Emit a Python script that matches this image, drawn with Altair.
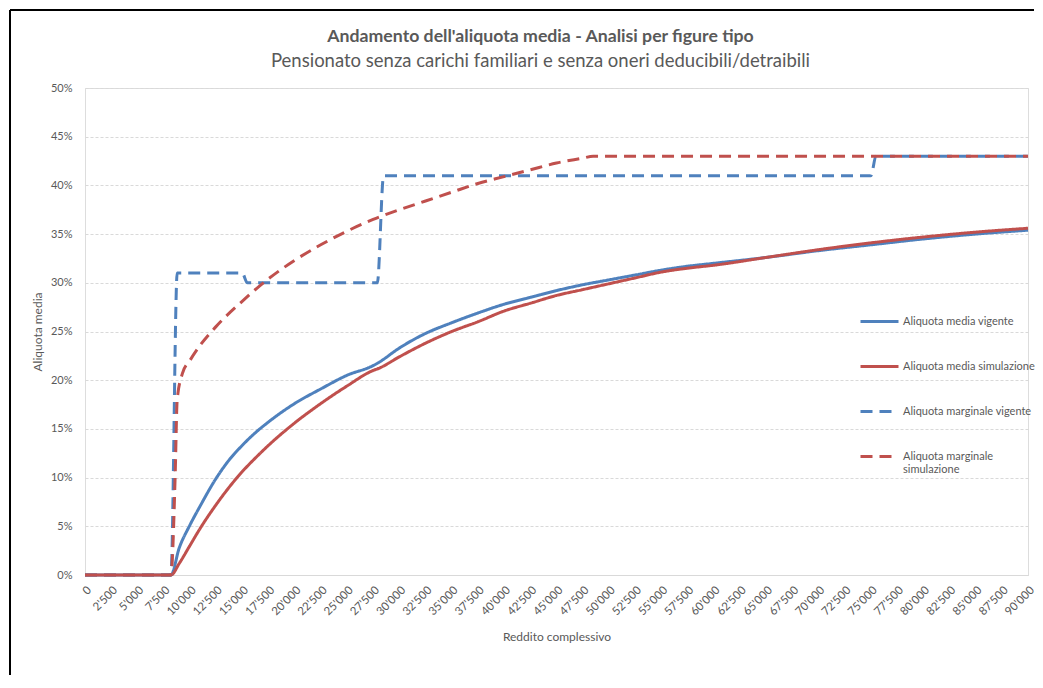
import altair as alt
import pandas as pd

titolo = "Andamento dell'aliquota media - Analisi per figure tipo"
sottotitolo = "Pensionato senza carichi familiari e senza oneri deducibili/detraibili"

serie = ["Aliquota media vigente", "Aliquota media simulazione",
         "Aliquota marginale vigente", "Aliquota marginale simulazione"]
colori = ["#4f81bd", "#c0504d", "#4f81bd", "#c0504d"]
tratti = [[1, 0], [1, 0], [12, 7], [12, 7]]

reddito_media = [0, 8200, 9000, 10000, 11000, 12500, 13750, 15000, 16250, 17500,
                 20000, 22500, 25000, 27500, 28000, 30000, 32500, 35000, 37500,
                 40000, 42500, 45000, 47500, 50000, 52500, 55000, 57500, 60000,
                 65000, 70000, 75000, 80000, 85000, 90000]
media_vigente = [0, 0, 2.8, 5.1, 7.1, 9.9, 11.8, 13.3, 14.6, 15.7,
                 17.6, 19.1, 20.5, 21.5, 21.8, 23.3, 24.8, 25.9, 26.9,
                 27.8, 28.5, 29.2, 29.8, 30.3, 30.8, 31.3, 31.7, 32.0,
                 32.6, 33.3, 33.9, 34.5, 35.0, 35.4]
media_simulazione = [0, 0, 1.2, 3.0, 4.8, 7.2, 9.0, 10.6, 12.0, 13.3,
                     15.6, 17.6, 19.4, 21.0, 21.2, 22.4, 23.8, 25.0, 26.0,
                     27.1, 27.9, 28.7, 29.3, 29.9, 30.5, 31.1, 31.5, 31.8,
                     32.6, 33.4, 34.1, 34.7, 35.2, 35.6]

reddito_marg_vig = [0, 8200, 8800, 15000, 15500, 27900, 28500, 75000, 75500, 90000]
marginale_vigente = [0, 0, 31, 31, 30, 30, 41, 41, 43, 43]

reddito_marg_sim = [0, 8200, 8300, 8600, 8800, 9300, 10000, 11000, 12500, 15000,
                    17500, 20000, 22500, 25000, 27500, 30000, 32500, 35000, 37500,
                    40000, 42500, 45000, 47500, 48500, 90000]
marginale_simulazione = [0, 0, 1, 10, 18, 20.7, 22.0, 23.6, 25.5, 28.1,
                         30.4, 32.3, 33.9, 35.3, 36.5, 37.5, 38.4, 39.3, 40.2,
                         40.9, 41.6, 42.3, 42.8, 43, 43]

righe = []
for nome, xs, ys in [
    (serie[0], reddito_media, media_vigente),
    (serie[1], reddito_media, media_simulazione),
    (serie[2], reddito_marg_vig, marginale_vigente),
    (serie[3], reddito_marg_sim, marginale_simulazione),
]:
    for i, (a, b) in enumerate(zip(xs, ys)):
        righe.append({"serie": nome, "reddito": a, "aliquota": b, "ordine": i})
df = pd.DataFrame(righe)

grigio = "#595959"
font = "Lato"

legenda = alt.Legend(
    orient="none", legendX=774, legendY=213, title=None,
    symbolType="stroke", symbolSize=1444, symbolStrokeWidth=3,
    labelFont=font, labelFontSize=11, labelColor=grigio,
    rowPadding=18, labelOffset=3, labelLimit=400, padding=0,
    labelExpr="datum.label == 'Aliquota marginale simulazione' ? ['Aliquota marginale', 'simulazione'] : datum.label",
)

linee = alt.Chart(df).mark_line(strokeWidth=3, interpolate="monotone").encode(
    x=alt.X("reddito:Q",
            scale=alt.Scale(domain=[0, 90000], nice=False, zero=True),
            axis=alt.Axis(values=list(range(0, 90001, 2500)),
                          labelExpr="replace(format(datum.value, ','), ',', \"'\")",
                          labelAngle=315, labelFont=font, labelFontSize=11.5,
                          labelColor=grigio, labelPadding=9, labelOverlap=False,
                          domainColor="#d9d9d9", domainWidth=1,
                          ticks=False, grid=False,
                          title="Reddito complessivo", titleFont=font,
                          titleFontSize=12, titleFontWeight="normal",
                          titleColor=grigio, titlePadding=14)),
    y=alt.Y("aliquota:Q",
            scale=alt.Scale(domain=[0, 50], nice=False),
            axis=alt.Axis(values=list(range(0, 51, 5)),
                          labelExpr="datum.value + '%'",
                          labelFont=font, labelFontSize=11, labelColor=grigio,
                          labelPadding=13, ticks=False, domain=False,
                          grid=True, gridColor="#d9d9d9", gridDash=[3, 2],
                          gridWidth=1,
                          title="Aliquota media", titleFont=font,
                          titleFontSize=12, titleFontWeight="normal",
                          titleColor=grigio, titlePadding=6)),
    color=alt.Color("serie:N", sort=serie,
                    scale=alt.Scale(domain=serie, range=colori), legend=legenda),
    strokeDash=alt.StrokeDash("serie:N", sort=serie,
                              scale=alt.Scale(domain=serie, range=tratti),
                              legend=legenda),
    order="ordine:Q",
)

uno = pd.DataFrame({"f": [0]})
bordo_sinistro = alt.Chart(uno).mark_rule(color="black", strokeWidth=2).encode(
    x=alt.value(-75), y=alt.value(-78), y2=alt.value(600))
bordo_alto = alt.Chart(uno).mark_rule(color="black", strokeWidth=2).encode(
    x=alt.value(-75), x2=alt.value(949), y=alt.value(-78))

chart = alt.layer(bordo_sinistro, bordo_alto, linee).properties(
    width=943, height=487,
    autosize=alt.AutoSizeParams(type="none"),
    padding={"left": 77, "top": 80, "right": 7, "bottom": 100},
    title=alt.TitleParams(
        text=titolo, subtitle=sottotitolo, anchor="middle", frame="group",
        font=font, fontSize=17.7, fontWeight="bold", color=grigio,
        subtitleFont=font, subtitleFontSize=18.5, subtitleColor=grigio,
        subtitlePadding=6, offset=-61, dx=-16,
    ),
).configure_view(strokeWidth=0).configure(font=font)

chart.save("out.html", embed_options={"renderer": "svg", "actions": False})
